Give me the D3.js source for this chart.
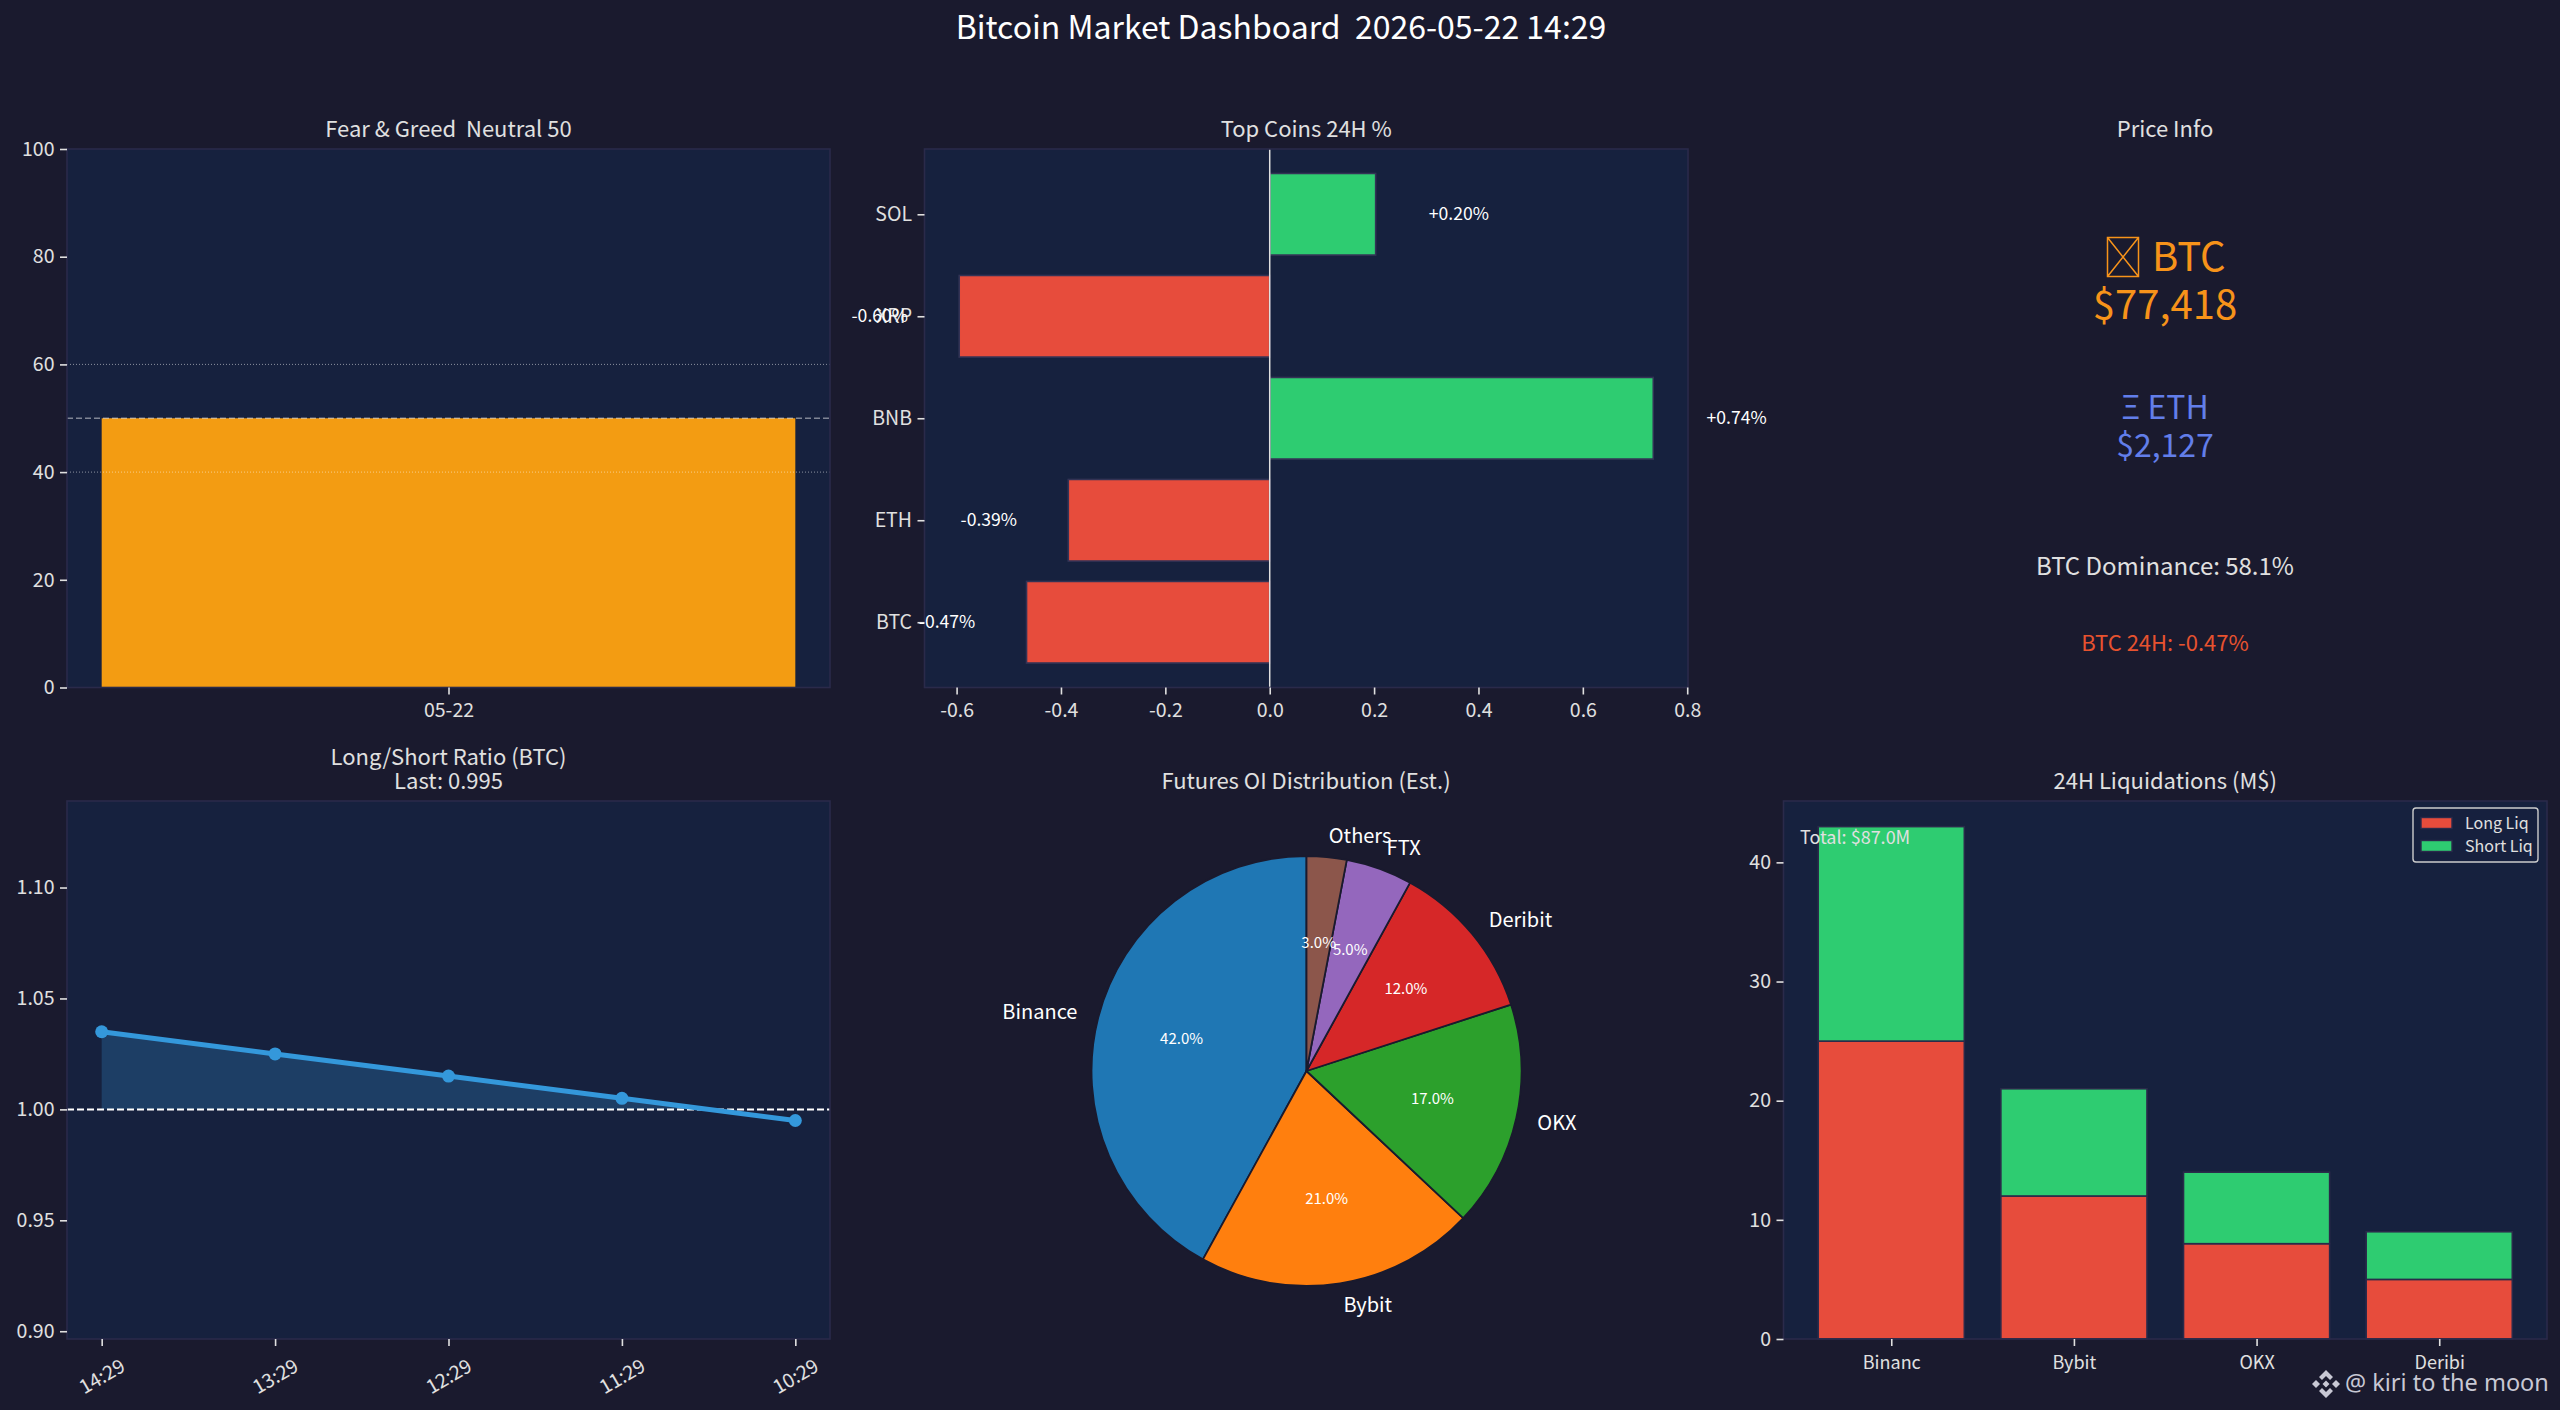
<!DOCTYPE html>
<html><head><meta charset="utf-8">
<script src="https://cdn.jsdelivr.net/npm/d3@7/dist/d3.min.js"></script>
<style>
html,body{margin:0;padding:0;background:#1a1a2e;overflow:hidden}
svg{display:block}
text{font-family:"Noto Sans CJK SC","Noto Sans",sans-serif}
</style></head><body>
<svg id="c" width="2560" height="1410"></svg>
<script>
const figureTitle = "Bitcoin Market Dashboard  2026-05-22 14:29";
const fgDates = ["05-22"];
const fgValues = [50];
const fgLabel = "Fear & Greed  Neutral 50";
const fgTicks = [0,20,40,60,80,100];
const fgGuides = [40,60];
const fgNeutral = 50;
const coinNames = ["BTC","ETH","BNB","XRP","SOL"];
const coinChanges = [-0.466,-0.386,0.735,-0.595,0.203];
const coinLabels = ["-0.47%","-0.39%","+0.74%","-0.60%","+0.20%"];
const coinTicks = [-0.6,-0.4,-0.2,0,0.2,0.4,0.6,0.8];
const priceBtc = "$77,418";
const priceEth = "$2,127";
const dominanceText = "BTC Dominance: 58.1%";
const btcChangeText = "BTC 24H: -0.47%";
const lsTimes = ["14:29","13:29","12:29","11:29","10:29"];
const lsValues = [1.035,1.025,1.015,1.005,0.995];
const lsTicks = [0.90,0.95,1.00,1.05,1.10];
const oiNames = ["Binance","Bybit","OKX","Deribit","FTX","Others"];
const oiShares = [42,21,17,12,5,3];
const oiColors = ["#1f77b4","#ff7f0e","#2ca02c","#d62728","#9467bd","#8c564b"];
const liqNames = ["Binanc","Bybit","OKX","Deribi"];
const liqLong = [25,12,8,5];
const liqShort = [18,9,6,4];
const liqTicks = [0,10,20,30,40];
const liqTotal = "Total: $87.0M";
const watermark = "@ kiri to the moon";

const BG="#1a1a2e",PANEL="#16213e",SPINE="#2a2a4a",TXT="#e0e0e0",RED="#e74c3c",GREEN="#2ecc71",BLUE="#3498db",AMBER="#f39c12";
const TICK=19.5, TITLE=22;
const svg=d3.select("#c");
svg.append("rect").attr("width",2560).attr("height",1410).attr("fill",BG);

function label(g,x,y,s,size,color,anchor){
  return g.append("text").attr("x",x).attr("y",y).attr("dy","0.35em").attr("font-size",size)
    .attr("fill",color||TXT).attr("text-anchor",anchor||"middle").attr("xml:space","preserve").style("white-space","pre").text(s);
}
function panel(b){
  const g=svg.append("g");
  g.append("rect").attr("x",b.l).attr("y",b.t).attr("width",b.r-b.l).attr("height",b.b-b.t).attr("fill",PANEL);
  return g;
}
function frame(g,b){
  g.append("rect").attr("x",b.l).attr("y",b.t).attr("width",b.r-b.l).attr("height",b.b-b.t)
    .attr("fill","none").attr("stroke",SPINE).attr("stroke-width",1.6);
}
function styleAxis(a){
  a.select(".domain").remove();
  a.selectAll(".tick line").attr("stroke",TXT).attr("stroke-width",1.6);
  a.selectAll(".tick text").attr("fill",TXT).attr("font-size",TICK)
    .style("font-family",'"Noto Sans CJK SC","Noto Sans",sans-serif');
}
function axisB(g,b,scale,vals,fmt,pad){
  const a=g.append("g").attr("transform",`translate(0,${b.b})`)
    .call(d3.axisBottom(scale).tickValues(vals).tickFormat(fmt).tickSize(7).tickPadding(pad||8.5));
  styleAxis(a);return a;
}
function axisL(g,b,scale,vals,fmt){
  const a=g.append("g").attr("transform",`translate(${b.l},0)`)
    .call(d3.axisLeft(scale).tickValues(vals).tickFormat(fmt).tickSize(7).tickPadding(5.5));
  styleAxis(a);return a;
}
label(svg,1281,28,figureTitle,32,"#ffffff");

/* Fear & Greed */
{
  const b={l:67,r:830,t:149,b:687.5};
  const g=panel(b);
  const x=d3.scaleLinear().domain([-0.44,0.44]).range([b.l,b.r]);
  const y=d3.scaleLinear().domain([0,100]).range([b.b,b.t]);
  g.selectAll("rect.bar").data(fgValues).join("rect").attr("class","bar")
    .attr("x",(d,i)=>x(i-0.4)).attr("width",(d,i)=>x(i+0.4)-x(i-0.4))
    .attr("y",d=>y(d)).attr("height",d=>y(0)-y(d)).attr("fill",AMBER);
  g.selectAll("line.guide").data(fgGuides).join("line").attr("class","guide")
    .attr("x1",b.l).attr("x2",b.r).attr("y1",d=>y(d)).attr("y2",d=>y(d))
    .attr("stroke","#ffffff").attr("stroke-opacity",0.5).attr("stroke-width",1).attr("stroke-dasharray","1 2");
  g.append("line").attr("x1",b.l).attr("x2",b.r).attr("y1",y(fgNeutral)).attr("y2",y(fgNeutral))
    .attr("stroke","#ffffff").attr("stroke-opacity",0.45).attr("stroke-width",1.6).attr("stroke-dasharray","6 3");
  frame(g,b);
  axisL(g,b,y,fgTicks,d=>d);
  axisB(g,b,x,fgDates.map((d,i)=>i),i=>fgDates[i]);
  label(g,(b.l+b.r)/2,129.5,fgLabel,TITLE);
}

/* Top coins */
{
  const b={l:924.5,r:1688,t:149,b:687.5};
  const g=panel(b);
  const x=d3.scaleLinear().domain([-0.6615,0.8015]).range([b.l,b.r]);
  const y=d3.scaleLinear().domain([-0.64,4.64]).range([b.b,b.t]);
  g.selectAll("rect.bar").data(coinChanges).join("rect").attr("class","bar")
    .attr("x",d=>x(Math.min(0,d))).attr("width",d=>Math.abs(x(d)-x(0)))
    .attr("y",(d,i)=>y(i+0.4)).attr("height",(d,i)=>y(i-0.4)-y(i+0.4))
    .attr("fill",d=>d<0?RED:GREEN).attr("stroke","#333355").attr("stroke-width",1.6);
  g.append("line").attr("x1",x(0)).attr("x2",x(0)).attr("y1",b.t).attr("y2",b.b).attr("stroke",TXT).attr("stroke-width",1.5);
  frame(g,b);
  axisL(g,b,y,coinNames.map((d,i)=>i),i=>coinNames[i]);
  axisB(g,b,x,coinTicks,d=>d3.format(".1f")(d).replace("−","-"));
  coinChanges.forEach((d,i)=>{
    label(g,x(d<0?d-0.1:d+0.1)+1,y(i),coinLabels[i],17.6,"#ffffff",d<0?"end":"start");
  });
  label(g,(b.l+b.r)/2,129.5,"Top Coins 24H %",TITLE);
}

/* Price info */
{
  const g=svg.append("g");
  const cx=2165;
  label(g,cx,129.5,"Price Info",TITLE);
  label(g,2152,257,"BTC",40,"#f7931a","start");
  g.append("path").attr("d","M2107.5,237.5h31v39h-31z M2107.5,237.5L2138.5,276.5 M2138.5,237.5L2107.5,276.5")
    .attr("fill","none").attr("stroke","#f7931a").attr("stroke-width",1.5);
  label(g,cx,305,priceBtc,40,"#f7931a");
  label(g,cx,408,"Ξ ETH",32,"#627eea");
  label(g,cx,446,priceEth,32,"#627eea");
  label(g,cx,567,dominanceText,24,TXT);
  label(g,cx,643,btcChangeText,22,"#e7522f");
}

/* Long/Short */
{
  const b={l:67,r:830,t:801,b:1339};
  const g=panel(b);
  const x=d3.scaleLinear().domain([-0.2,4.2]).range([b.l,b.r]);
  const y=d3.scaleLinear().domain([0.8965,1.139]).range([b.b,b.t]);
  const pts=lsValues.map((v,i)=>[i,v]);
  svg.append("defs").append("clipPath").attr("id","above").append("rect")
    .attr("x",b.l).attr("y",b.t).attr("width",b.r-b.l).attr("height",y(1)-b.t);
  g.append("path").datum(pts).attr("clip-path","url(#above)")
    .attr("d",d3.area().x(d=>x(d[0])).y0(y(1)).y1(d=>y(d[1])))
    .attr("fill",BLUE).attr("fill-opacity",0.25);
  g.append("line").attr("x1",b.l).attr("x2",b.r).attr("y1",y(1)).attr("y2",y(1))
    .attr("stroke","#ffffff").attr("stroke-width",2).attr("stroke-dasharray","7 3");
  g.append("path").datum(pts).attr("d",d3.line().x(d=>x(d[0])).y(d=>y(d[1])))
    .attr("fill","none").attr("stroke",BLUE).attr("stroke-width",5);
  g.selectAll("circle").data(pts).join("circle").attr("cx",d=>x(d[0])).attr("cy",d=>y(d[1])).attr("r",6.5).attr("fill",BLUE);
  frame(g,b);
  axisL(g,b,y,lsTicks,d3.format(".2f"));
  const ax=axisB(g,b,x,lsTimes.map((d,i)=>i),i=>lsTimes[i]);
  ax.selectAll(".tick text").attr("text-anchor","middle").attr("y",0).attr("dy",0)
    .attr("transform","translate(-1,36) rotate(-30)").attr("dominant-baseline","central");
  label(g,(b.l+b.r)/2,757,"Long/Short Ratio (BTC)",TITLE);
  label(g,(b.l+b.r)/2,781.5,"Last: "+d3.format(".3f")(lsValues[lsValues.length-1]),TITLE);
}

/* OI pie */
{
  const cx=1306.5,cy=1071,r=215;
  const g=svg.append("g").attr("transform",`translate(${cx},${cy})`);
  const pie=d3.pie().sort(null).startAngle(0).endAngle(-2*Math.PI)(oiShares);
  const arc=d3.arc().innerRadius(0).outerRadius(r);
  g.selectAll("path").data(pie).join("path").attr("d",arc)
    .attr("fill",(d,i)=>oiColors[i]).attr("stroke",BG).attr("stroke-width",1.8).attr("stroke-linejoin","round");
  pie.forEach((d,i)=>{
    const a=(d.startAngle+d.endAngle)/2,s=Math.sin(a),c=-Math.cos(a);
    label(g,s*r*1.1,c*r*1.1,oiNames[i],20,"#ffffff",s<0?"end":"start");
    label(g,s*r*0.6,c*r*0.6,d3.format(".1f")(d.value)+"%",15,"#ffffff");
  });
  label(svg,1306,781.5,"Futures OI Distribution (Est.)",TITLE);
}

/* Liquidations */
{
  const b={l:1783.5,r:2547,t:801,b:1339};
  const g=panel(b);
  const x=d3.scaleLinear().domain([-0.59,3.59]).range([b.l,b.r]);
  const y=d3.scaleLinear().domain([0,45.15]).range([b.b,b.t]);
  const barStyle=s=>s.attr("x",(d,i)=>x(i-0.4)).attr("width",(d,i)=>x(i+0.4)-x(i-0.4)).attr("stroke","#2a2a4a").attr("stroke-width",1.6);
  g.selectAll("rect.long").data(liqLong).join("rect").attr("class","long").call(barStyle)
    .attr("y",d=>y(d)).attr("height",d=>y(0)-y(d)).attr("fill",RED);
  g.selectAll("rect.short").data(liqShort).join("rect").attr("class","short").call(barStyle)
    .attr("y",(d,i)=>y(liqLong[i]+d)).attr("height",d=>y(0)-y(d)).attr("fill",GREEN);
  frame(g,b);
  axisL(g,b,y,liqTicks,d=>d);
  const ax=axisB(g,b,x,liqNames.map((d,i)=>i),i=>liqNames[i],10);
  ax.selectAll(".tick text").attr("font-size",18);
  label(g,1800,837.5,liqTotal,18,"#e0e0e0","start");
  label(g,(b.l+b.r)/2,781.5,"24H Liquidations (M$)",TITLE);
  const lg=g.append("g");
  lg.append("rect").attr("x",2413).attr("y",808).attr("width",125).attr("height",54).attr("rx",3)
    .attr("fill",PANEL).attr("fill-opacity",0.8).attr("stroke","#cccccc").attr("stroke-width",1.4);
  [["Long Liq",RED,823],["Short Liq",GREEN,846]].forEach(([t,c,yy])=>{
    lg.append("rect").attr("x",2421).attr("y",yy-5.5).attr("width",31).attr("height",11).attr("fill",c).attr("stroke","#2a2a4a").attr("stroke-width",1.4);
    label(lg,2465,yy,t,16,TXT,"start");
  });
}

/* Watermark */
{
  const g=svg.append("g").attr("transform","translate(2326,1384)").attr("fill","#c8c8d4");
  g.append("path").attr("d","M0,-14L7,-7L4,-4L0,-8L-4,-4L-7,-7Z M0,14L7,7L4,4L0,8L-4,4L-7,7Z M-14,0L-10,-4L-6,0L-10,4Z M14,0L10,-4L6,0L10,4Z M0,-3.5L3.5,0L0,3.5L-3.5,0Z");
  label(svg,2345,1383,watermark,23.5,"#c8c8d4","start").style("font-family",'"Noto Sans",sans-serif');
}
</script></body></html>
